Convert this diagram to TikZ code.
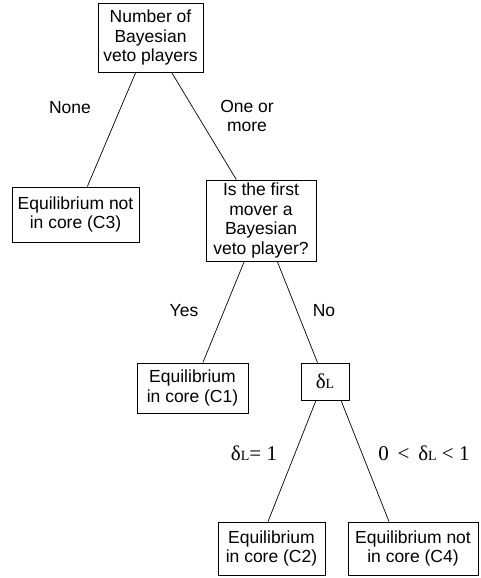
\documentclass[tikz,border=0pt]{standalone}
\usepackage{fontspec}
\setmainfont{Liberation Sans}
\newfontfamily\timesfont{Liberation Serif}
\newcommand{\deltaL}{δ{\fontsize{14}{14}\selectfont L}}
\tikzset{
  box/.style={draw, line width=0.8pt, align=center, inner sep=0pt,
    font=\fontsize{17.5}{19.5}\selectfont},
  lab/.style={align=center, inner sep=0pt, font=\fontsize{17.5}{19.5}\selectfont},
  mathlab/.style={inner sep=0pt, font=\timesfont\fontsize{21}{21}\selectfont},
  branch/.style={line width=0.7pt}
}
\begin{document}
\begin{tikzpicture}[x=1pt,y=-1pt]
        \useasboundingbox (0,0) rectangle (481,578);
        %nodi
        \node[box, minimum width=105pt, minimum height=69pt] (root) at (150.5,37.5) {Number of\\Bayesian\\veto players};
        \node[box, minimum width=127pt, minimum height=55pt] (c3) at (75.5,214.5) {Equilibrium not\\in core (C3)};
        \node[box, minimum width=110pt, minimum height=81pt] (first) at (261,220.5) {Is the first\\mover a\\Bayesian\\veto player?};
        \node[box, minimum width=111pt, minimum height=50pt] (c1) at (192.5,388) {Equilibrium\\in core (C1)};
        \node[box, minimum width=48pt, minimum height=37pt, font=\timesfont\fontsize{21}{21}\selectfont] (delta) at (325,381.5) {\deltaL};
        \node[box, minimum width=107pt, minimum height=53pt] (c2) at (271.5,548.5) {Equilibrium\\in core (C2)};
        \node[box, minimum width=130pt, minimum height=53pt] (c4) at (413,548.5) {Equilibrium not\\in core (C4)};
        %rami
        \draw[branch] (root)--(c3);
        \draw[branch] (root)--(first);
        \draw[branch] (first)--(c1);
        \draw[branch] (first)--(delta);
        \draw[branch] ([xshift=-9pt]delta.south)--([xshift=-3.5pt]c2.north);
        \draw[branch] ([xshift=16pt]delta.south)--([xshift=-24pt]c4.north);
        %etichette
        \node[lab] (none) at (70,108) {None};
        \node[lab] (more) at (247,116) {One or\\more};
        \node[lab] (yes) at (184,311) {Yes};
        \node[lab] (no) at (324,311) {No};
        \node[mathlab] (one) at (254,453) {\deltaL= 1};
        \node[mathlab] (less) at (424,453) {0 \,<\, \deltaL{} < 1};
    \end{tikzpicture}
\end{document}
